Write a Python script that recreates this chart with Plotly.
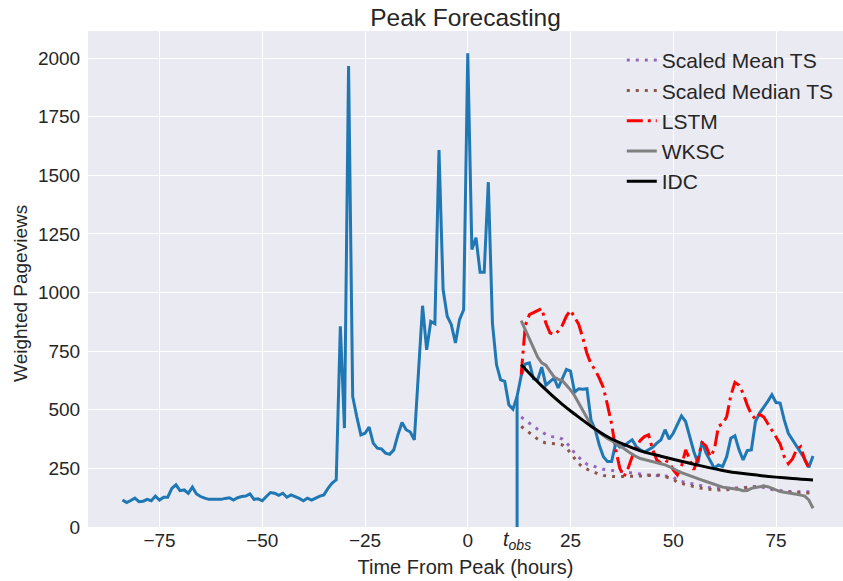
import plotly.graph_objects as go

# ---------------- data ----------------
obs_t = list(range(-84, 85))
obs_v = [
    115, 104, 113, 123, 108, 110, 118, 112, 132, 115,   # -84..-75
    127, 127, 165, 180, 155, 158, 144, 170, 141, 130,   # -74..-65
    123, 118, 118, 118, 118, 122, 125, 115, 125, 130,   # -64..-55
    132, 141, 118, 120, 112, 130, 147, 144, 135, 144,   # -54..-45
    127, 137, 130, 122, 112, 123, 115, 125, 132, 137,   # -44..-35
    165, 187, 201, 856, 422, 1967, 557, 470, 393, 400,  # -34..-25
    426, 358, 336, 333, 315, 310, 329, 393, 446, 415,   # -24..-15
    405, 372, 650, 944, 756, 877, 867, 1608, 1013, 899, # -14..-5
    863, 785, 885, 927, 2021, 1184, 1234, 1087, 1087, 1471,  # -4..5
    870, 692, 628, 621, 521, 503, 557,                  # 6..12
    645, 695, 700, 632, 628, 682, 605, 620, 635, 593,   # 13..22
    630, 672, 665, 575, 590, 588, 590, 455, 415, 350,   # 23..32
    300, 279, 279, 358, 341, 345, 360, 372, 343, 329,   # 33..42
    320, 329, 340, 358, 372, 415, 375, 400, 440, 474,   # 43..52
    450, 386, 322, 272, 365, 315, 280, 251, 265, 258,   # 53..62
    300, 379, 389, 330, 286, 326, 329, 450, 486, 510,   # 63..72
    536, 564, 531, 529, 457, 400, 372, 350, 322, 290,   # 73..82
    255, 303,                                           # 83..84
]
t_obs = 12
t_obs_value = 557

fc_t = list(range(13, 85))
mean_ts = [
    469, 455, 443, 430, 417, 405, 395, 386, 384, 383,
    375, 360, 340, 315, 298, 280, 268, 262, 255, 250,
    246, 244, 242, 238, 236, 234, 232, 230, 229, 226,
    223, 222, 220, 220, 220, 218, 216, 212, 200, 194,
    190, 187, 183, 178, 175, 172, 168, 166, 165, 165,
    165, 165, 166, 168, 168, 170, 172, 173, 172, 170,
    165, 160, 157, 154, 152, 151, 151, 151, 151, 150,
    150, 150,
]
median_ts = [
    429, 415, 400, 385, 375, 365, 358, 356, 355, 355,
    350, 338, 315, 293, 270, 255, 245, 238, 232, 224,
    220, 217, 216, 215, 215, 215, 216, 215, 215, 216,
    218, 220, 222, 222, 220, 215, 210, 204, 190, 185,
    180, 176, 172, 168, 165, 162, 160, 158, 158, 158,
    158, 160, 162, 164, 165, 168, 170, 172, 174, 175,
    170, 163, 158, 153, 150, 148, 147, 147, 146, 145,
    144, 144,
]
lstm_t = list(range(13, 84))
lstm = [
    650, 860, 906, 915, 925, 932, 870, 828, 821, 835,
    860, 900, 924, 892, 865, 806, 740, 695, 670, 635,
    595, 520, 440, 330, 250, 215, 250, 300, 343, 370,
    386, 393, 330, 286, 272, 285, 275, 244, 222, 258,
    329, 290, 244, 290, 360, 345, 300, 330, 430, 440,
    470, 560, 617, 605, 570, 520, 480, 460, 480, 470,
    440, 410, 380, 355, 300, 270, 290, 330, 343, 286,
    251,
]
wksc = [
    880, 840, 800, 765, 725, 700, 690, 665, 640, 630,
    625, 605, 585, 560, 530, 500, 470, 435, 415, 402,
    390, 378, 368, 358, 345, 335, 322, 310, 300, 292,
    288, 283, 279, 275, 270, 265, 258, 248, 240, 232,
    225, 218, 212, 205, 200, 194, 188, 180, 173, 170,
    167, 165, 162, 160, 155, 156, 165, 168, 172, 175,
    172, 165, 155, 151, 148, 146, 144, 140, 136, 132,
    115, 80,
]
idc_t = [13, 18, 23, 26, 30, 34, 38, 42, 47, 55, 63, 71, 79, 84]
idc = [692, 602, 523, 482, 430, 385, 352, 325, 302, 268, 238, 220, 207, 201]

x_ticks = [-75, -50, -25, 0, 25, 50, 75]
y_ticks = [0, 250, 500, 750, 1000, 1250, 1500, 1750, 2000]

# ---------------- figure ----------------
FONT = "Liberation Sans, Arial, sans-serif"
TXT = "#262626"
fig = go.Figure()

fig.add_trace(go.Scatter(x=obs_t, y=obs_v, mode="lines", showlegend=False,
                         line=dict(color="#1f77b4", width=3)))
fig.add_trace(go.Scatter(x=[t_obs, t_obs], y=[0, t_obs_value], mode="lines",
                         showlegend=False, line=dict(color="#1f77b4", width=3)))

fig.add_trace(go.Scatter(x=fc_t, y=mean_ts, mode="lines", name="Scaled Mean TS",
                         line=dict(color="#9467bd", width=3, dash="3px,6px")))
fig.add_trace(go.Scatter(x=fc_t, y=median_ts, mode="lines", name="Scaled Median TS",
                         line=dict(color="#8c564b", width=3, dash="3px,6px")))
fig.add_trace(go.Scatter(x=lstm_t, y=lstm, mode="lines", name="LSTM",
                         line=dict(color="#ff0000", width=3, dash="16px,5px,3px,5px")))
fig.add_trace(go.Scatter(x=fc_t, y=wksc, mode="lines", name="WKSC",
                         line=dict(color="#808080", width=3)))
fig.add_trace(go.Scatter(x=idc_t, y=idc, mode="lines", name="IDC",
                         line=dict(color="#000000", width=3, shape="spline")))

fig.add_annotation(x=t_obs, y=0, xref="x", yref="paper", yanchor="top",
                   yshift=1, showarrow=False,
                   text="<i>t</i><sub><i>obs</i></sub>",
                   font=dict(family=FONT, size=20, color=TXT))
fig.add_annotation(x=-0.0887, y=0.47, xref="paper", yref="paper",
                   xanchor="center", yanchor="middle", textangle=-90,
                   showarrow=False, text="Weighted Pageviews",
                   font=dict(family=FONT, size=19, color=TXT))

fig.update_layout(
    width=843, height=581,
    margin=dict(l=88, r=0, t=31, b=54),
    paper_bgcolor="white", plot_bgcolor="#EAEAF2",
    font=dict(family=FONT, color=TXT, size=19),
    title=dict(text="Peak Forecasting", x=0.5, xref="paper", xanchor="center",
               y=1, yref="paper", yanchor="bottom", pad=dict(b=5),
               font=dict(family=FONT, size=24.5, color=TXT)),
    legend=dict(x=0.707, y=0.982, xanchor="left", yanchor="top",
                bgcolor="rgba(0,0,0,0)", font=dict(family=FONT, size=21, color=TXT),
                tracegroupgap=0),
    xaxis=dict(range=[-92.4, 91.3], tickvals=x_ticks,
               ticktext=["\u221275", "\u221250", "\u221225", "0", "25", "50", "75"],
               showgrid=True, gridcolor="white", gridwidth=1.3, zeroline=False,
               showline=False, ticks="",
               tickfont=dict(size=19, color=TXT),
               title=dict(text="Time From Peak (hours)", standoff=9,
                          font=dict(size=20, color=TXT))),
    yaxis=dict(range=[0, 2116], tickvals=y_ticks,
               showgrid=True, gridcolor="white", gridwidth=1.3, zeroline=False,
               showline=False, ticks="outside", ticklen=3, tickcolor="rgba(0,0,0,0)",
               tickfont=dict(size=19, color=TXT)),
)

fig.write_html("out.html")
